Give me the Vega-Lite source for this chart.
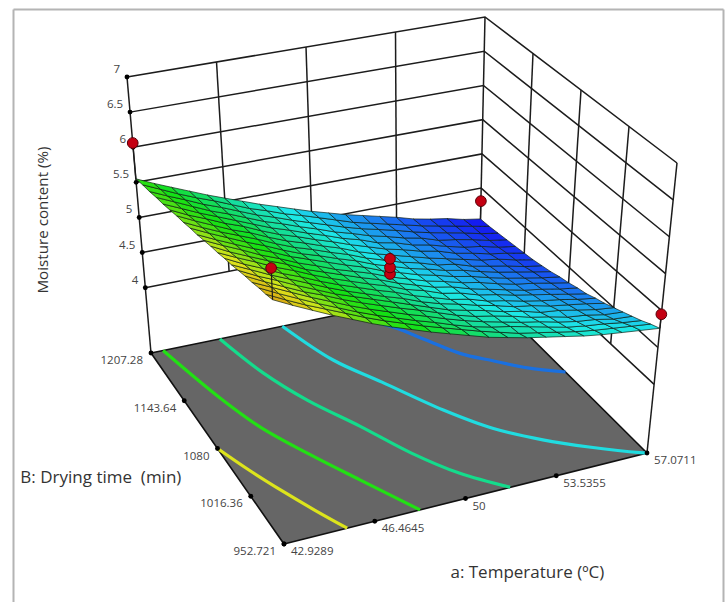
{"$schema":"https://vega.github.io/schema/vega-lite/v6.json","width":710,"height":593,"padding":{"left":13,"top":9,"right":4,"bottom":0},"autosize":"none","background":"white","config":{"view":{"stroke":null}},
"data":{"values":[
{"k":"wall","g":"h4","a":42.9289,"b":1207.28,"z":4},{"k":"wall","g":"h4","a":57.0711,"b":1207.28,"z":4},{"k":"wall","g":"h4","a":57.0711,"b":952.721,"z":4},
{"k":"wall","g":"h45","a":42.9289,"b":1207.28,"z":4.5},{"k":"wall","g":"h45","a":57.0711,"b":1207.28,"z":4.5},{"k":"wall","g":"h45","a":57.0711,"b":952.721,"z":4.5},
{"k":"wall","g":"h5","a":42.9289,"b":1207.28,"z":5},{"k":"wall","g":"h5","a":57.0711,"b":1207.28,"z":5},{"k":"wall","g":"h5","a":57.0711,"b":952.721,"z":5},
{"k":"wall","g":"h55","a":42.9289,"b":1207.28,"z":5.5},{"k":"wall","g":"h55","a":57.0711,"b":1207.28,"z":5.5},{"k":"wall","g":"h55","a":57.0711,"b":952.721,"z":5.5},
{"k":"wall","g":"h6","a":42.9289,"b":1207.28,"z":6},{"k":"wall","g":"h6","a":57.0711,"b":1207.28,"z":6},{"k":"wall","g":"h6","a":57.0711,"b":952.721,"z":6},
{"k":"wall","g":"h65","a":42.9289,"b":1207.28,"z":6.5},{"k":"wall","g":"h65","a":57.0711,"b":1207.28,"z":6.5},{"k":"wall","g":"h65","a":57.0711,"b":952.721,"z":6.5},
{"k":"wall","g":"h7","a":42.9289,"b":1207.28,"z":7},{"k":"wall","g":"h7","a":57.0711,"b":1207.28,"z":7},{"k":"wall","g":"h7","a":57.0711,"b":952.721,"z":7},
{"k":"wall","g":"va1","a":46.4645,"b":1207.28,"z":4},{"k":"wall","g":"va1","a":46.4645,"b":1207.28,"z":7},
{"k":"wall","g":"va2","a":50,"b":1207.28,"z":4},{"k":"wall","g":"va2","a":50,"b":1207.28,"z":7},
{"k":"wall","g":"va3","a":53.5355,"b":1207.28,"z":4},{"k":"wall","g":"va3","a":53.5355,"b":1207.28,"z":7},
{"k":"wall","g":"vb1","a":57.0711,"b":1016.36,"z":4},{"k":"wall","g":"vb1","a":57.0711,"b":1016.36,"z":7},
{"k":"wall","g":"vb2","a":57.0711,"b":1080,"z":4},{"k":"wall","g":"vb2","a":57.0711,"b":1080,"z":7},
{"k":"wall","g":"vb3","a":57.0711,"b":1143.64,"z":4},{"k":"wall","g":"vb3","a":57.0711,"b":1143.64,"z":7},
{"k":"wall","g":"c1","a":42.9289,"b":1207.28,"z":3.07},{"k":"wall","g":"c1","a":42.9289,"b":1207.28,"z":7},
{"k":"wall","g":"c2","a":57.0711,"b":1207.28,"z":3.07},{"k":"wall","g":"c2","a":57.0711,"b":1207.28,"z":7},
{"k":"wall","g":"c3","a":57.0711,"b":952.721,"z":3.07},{"k":"wall","g":"c3","a":57.0711,"b":952.721,"z":7},
{"k":"floor","g":"f","a":42.9289,"b":952.721,"z":3.07},{"k":"floor","g":"f","a":57.0711,"b":952.721,"z":3.07},{"k":"floor","g":"f","a":57.0711,"b":1207.28,"z":3.07},{"k":"floor","g":"f","a":42.9289,"b":1207.28,"z":3.07},
{"k":"contour","g":"l591","a":42.93,"b":1080,"z":3.07},{"k":"contour","g":"l591","a":43.5,"b":1046.9,"z":3.07},{"k":"contour","g":"l591","a":44.13,"b":1013.8,"z":3.07},{"k":"contour","g":"l591","a":44.77,"b":982,"z":3.07},{"k":"contour","g":"l591","a":45.39,"b":952.72,"z":3.07},
{"k":"contour","g":"l550","a":43.45,"b":1207.28,"z":3.07},{"k":"contour","g":"l550","a":44.3,"b":1137.8,"z":3.07},{"k":"contour","g":"l550","a":44.98,"b":1093.5,"z":3.07},{"k":"contour","g":"l550","a":45.93,"b":1051,"z":3.07},{"k":"contour","g":"l550","a":47.03,"b":1004.9,"z":3.07},{"k":"contour","g":"l550","a":48.23,"b":952.72,"z":3.07},
{"k":"contour","g":"l514","a":45.9,"b":1207.28,"z":3.07},{"k":"contour","g":"l514","a":46.54,"b":1156.4,"z":3.07},{"k":"contour","g":"l514","a":47.36,"b":1112.8,"z":3.07},{"k":"contour","g":"l514","a":48.47,"b":1068,"z":3.07},{"k":"contour","g":"l514","a":49.46,"b":1022.2,"z":3.07},{"k":"contour","g":"l514","a":50.49,"b":984.5,"z":3.07},{"k":"contour","g":"l514","a":51.74,"b":952.72,"z":3.07},
{"k":"contour","g":"l486","a":48.59,"b":1207.28,"z":3.07},{"k":"contour","g":"l486","a":49.43,"b":1153.8,"z":3.07},{"k":"contour","g":"l486","a":50.5,"b":1114.4,"z":3.07},{"k":"contour","g":"l486","a":51.78,"b":1064.2,"z":3.07},{"k":"contour","g":"l486","a":52.9,"b":1027.8,"z":3.07},{"k":"contour","g":"l486","a":54.17,"b":999.8,"z":3.07},{"k":"contour","g":"l486","a":55.49,"b":976.6,"z":3.07},{"k":"contour","g":"l486","a":56.86,"b":955.3,"z":3.07},{"k":"contour","g":"l486","a":57.07,"b":952.72,"z":3.07},
{"k":"contour","g":"l449","a":51.56,"b":1207.28,"z":3.07},{"k":"contour","g":"l449","a":52.12,"b":1189.5,"z":3.07},{"k":"contour","g":"l449","a":52.69,"b":1176,"z":3.07},{"k":"contour","g":"l449","a":53.35,"b":1153.8,"z":3.07},{"k":"contour","g":"l449","a":54.1,"b":1128.4,"z":3.07},{"k":"contour","g":"l449","a":55.02,"b":1109.8,"z":3.07},{"k":"contour","g":"l449","a":55.94,"b":1092,"z":3.07},{"k":"contour","g":"l449","a":57.07,"b":1076.2,"z":3.07},
{"k":"stem","g":"p1","a":42.9289,"b":952.721,"z":6.27},{"k":"stem","g":"p1","a":42.9289,"b":952.721,"z":6.685},
{"k":"stem","g":"p2","a":42.9289,"b":1207.28,"z":5.55},{"k":"stem","g":"p2","a":42.9289,"b":1207.28,"z":6.06},
{"k":"stem","g":"p3","a":57.0711,"b":952.721,"z":4.76},{"k":"stem","g":"p3","a":57.0711,"b":952.721,"z":4.95},
{"k":"stem","g":"p4","a":57.0711,"b":1207.28,"z":4.05},{"k":"stem","g":"p4","a":57.0711,"b":1207.28,"z":4.31},
{"k":"stem","g":"p5","a":50,"b":1080,"z":4.9},{"k":"stem","g":"p5","a":50,"b":1080,"z":5.15},
{"k":"point","g":"p1","a":42.9289,"b":952.721,"z":6.685},{"k":"point","g":"p2","a":42.9289,"b":1207.28,"z":6.06},{"k":"point","g":"p3","a":57.0711,"b":952.721,"z":4.95},{"k":"point","g":"p4","a":57.0711,"b":1207.28,"z":4.31},{"k":"point","g":"p5","a":50,"b":1080,"z":4.94},{"k":"point","g":"p6","a":50,"b":1080,"z":5.03},{"k":"point","g":"p7","a":50,"b":1080,"z":5.15},
{"k":"zt","label":"4","a":42.9289,"b":1207.28,"z":4},{"k":"zt","label":"4.5","a":42.9289,"b":1207.28,"z":4.5},{"k":"zt","label":"5","a":42.9289,"b":1207.28,"z":5},{"k":"zt","label":"5.5","a":42.9289,"b":1207.28,"z":5.5},{"k":"zt","label":"6","a":42.9289,"b":1207.28,"z":6},{"k":"zt","label":"6.5","a":42.9289,"b":1207.28,"z":6.5},{"k":"zt","label":"7","a":42.9289,"b":1207.28,"z":7},
{"k":"bt","label":"952.721","a":42.9289,"b":952.721,"z":3.07},{"k":"bt","label":"1016.36","a":42.9289,"b":1016.36,"z":3.07},{"k":"bt","label":"1080","a":42.9289,"b":1080,"z":3.07},{"k":"bt","label":"1143.64","a":42.9289,"b":1143.64,"z":3.07},{"k":"bt","label":"1207.28","a":42.9289,"b":1207.28,"z":3.07},
{"k":"at","label":"42.9289","a":42.9289,"b":952.721,"z":3.07},{"k":"at","label":"46.4645","a":46.4645,"b":952.721,"z":3.07},{"k":"at","label":"50","a":50,"b":952.721,"z":3.07},{"k":"at","label":"53.5355","a":53.5355,"b":952.721,"z":3.07},{"k":"at","label":"57.0711","a":57.0711,"b":952.721,"z":3.07},
{"k":"title","label":"a: Temperature (ºC)","a":49.97,"b":846.8,"z":3.07},{"k":"title","label":"B: Drying time\u00a0 (min)","a":38.09,"b":1076.7,"z":3.07},
{"k":"ztitle","label":"Moisture content (%)","a":42.29,"b":1387.5,"z":3.07}
]},
"transform":[
{"window":[{"op":"row_number","as":"o"}]},
{"calculate":"(datum.a-42.9289)/14.1422","as":"u"},{"calculate":"(datum.b-952.721)/254.559","as":"v"},{"calculate":"(datum.z-3.07)/3.93","as":"w"},
{"calculate":"284+363*datum.u-133*datum.v-35*datum.u*datum.v+datum.w*(-14+44*datum.u-10*datum.v-14*datum.u*datum.v)","as":"x"},
{"calculate":"544-91*datum.u-191*datum.v+24*datum.u*datum.v+datum.w*(-300+10*datum.u+24*datum.v-3*datum.u*datum.v)","as":"y"}
],
"encoding":{
"x":{"field":"x","type":"quantitative","scale":{"domain":[13,723],"nice":false,"zero":false},"axis":{"orient":"top","values":[13,723],"grid":true,"gridColor":"#b4b4b4","gridWidth":2,"domain":false,"ticks":false,"labels":false,"title":null}},
"y":{"field":"y","type":"quantitative","scale":{"domain":[602,9],"nice":false,"zero":false},"axis":{"values":[9],"grid":true,"gridColor":"#b4b4b4","gridWidth":2,"domain":false,"ticks":false,"labels":false,"title":null}}
},
"layer":[
{"transform":[{"filter":"datum.k=='wall'"}],"mark":{"type":"line","stroke":"#1c1c1c","strokeWidth":1.5},"encoding":{"detail":{"field":"g"},"order":{"field":"o"}}},
{"transform":[{"filter":"datum.k=='floor'"}],"mark":{"type":"line","interpolate":"linear-closed","fill":"#666666","stroke":"#111111","strokeWidth":1.6},"encoding":{"detail":{"field":"g"},"order":{"field":"o"}}},
{"transform":[{"filter":"datum.k=='contour'"}],"mark":{"type":"line","strokeWidth":3.2,"interpolate":"catmull-rom"},"encoding":{"stroke":{"field":"g","type":"nominal","scale":{"domain":["l591","l550","l514","l486","l449"],"range":["#dce41c","#22e014","#14dc8c","#20dce0","#1a70e0"]},"legend":null},"order":{"field":"o"}}},
{"data":{"values":[
{"a":42.93,"m":[6.27,6.23,6.20,6.16,6.13,6.09,6.05,6.02,5.98,5.95,5.91,5.87,5.84,5.80,5.77,5.73,5.69,5.66,5.62,5.59,5.55]},
{"a":43.64,"m":[6.14,6.10,6.07,6.04,6.00,5.96,5.93,5.89,5.86,5.82,5.79,5.75,5.72,5.68,5.65,5.61,5.58,5.55,5.51,5.48,5.44]},
{"a":44.34,"m":[6.02,5.98,5.95,5.92,5.88,5.85,5.81,5.78,5.75,5.71,5.68,5.64,5.61,5.57,5.54,5.51,5.47,5.44,5.41,5.37,5.34]},
{"a":45.05,"m":[5.90,5.87,5.83,5.80,5.76,5.73,5.70,5.66,5.63,5.60,5.56,5.53,5.50,5.47,5.43,5.40,5.37,5.33,5.30,5.27,5.24]},
{"a":45.76,"m":[5.79,5.76,5.72,5.69,5.66,5.62,5.59,5.56,5.53,5.50,5.46,5.43,5.40,5.37,5.34,5.31,5.27,5.24,5.21,5.18,5.14]},
{"a":46.46,"m":[5.68,5.65,5.61,5.58,5.55,5.51,5.48,5.45,5.42,5.38,5.35,5.32,5.29,5.26,5.23,5.20,5.17,5.14,5.11,5.08,5.05]},
{"a":47.17,"m":[5.58,5.55,5.51,5.48,5.45,5.42,5.38,5.35,5.32,5.29,5.26,5.23,5.19,5.16,5.13,5.10,5.07,5.04,5.01,4.98,4.96]},
{"a":47.88,"m":[5.49,5.46,5.42,5.39,5.36,5.33,5.29,5.26,5.23,5.20,5.16,5.14,5.11,5.08,5.05,5.02,4.99,4.96,4.93,4.90,4.87]},
{"a":48.59,"m":[5.40,5.37,5.33,5.30,5.27,5.24,5.20,5.17,5.14,5.11,5.08,5.05,5.02,4.99,4.96,4.93,4.90,4.87,4.84,4.81,4.79]},
{"a":49.29,"m":[5.32,5.29,5.25,5.22,5.19,5.15,5.12,5.09,5.06,5.03,5.00,4.97,4.94,4.91,4.88,4.85,4.82,4.79,4.76,4.74,4.71]},
{"a":50,"m":[5.24,5.21,5.16,5.13,5.10,5.06,5.02,4.99,4.96,4.93,4.90,4.87,4.84,4.81,4.78,4.76,4.73,4.70,4.68,4.66,4.63]},
{"a":50.71,"m":[5.16,5.13,5.08,5.05,5.01,4.97,4.94,4.91,4.89,4.85,4.82,4.79,4.76,4.73,4.70,4.68,4.66,4.63,4.60,4.58,4.56]},
{"a":51.41,"m":[5.10,5.06,5.02,4.98,4.94,4.91,4.88,4.83,4.80,4.77,4.74,4.71,4.68,4.65,4.63,4.60,4.57,4.55,4.53,4.50,4.49]},
{"a":52.12,"m":[5.04,4.99,4.97,4.92,4.89,4.85,4.81,4.78,4.75,4.72,4.68,4.65,4.62,4.59,4.56,4.54,4.52,4.49,4.47,4.44,4.43]},
{"a":52.83,"m":[4.99,4.94,4.91,4.86,4.83,4.78,4.75,4.70,4.67,4.64,4.61,4.58,4.55,4.51,4.49,4.47,4.44,4.42,4.41,4.38,4.37]},
{"a":53.54,"m":[4.94,4.89,4.85,4.81,4.76,4.73,4.68,4.65,4.62,4.58,4.56,4.53,4.50,4.47,4.43,4.42,4.39,4.37,4.34,4.32,4.31]},
{"a":54.24,"m":[4.89,4.84,4.79,4.75,4.71,4.66,4.64,4.59,4.56,4.52,4.49,4.46,4.43,4.39,4.37,4.34,4.32,4.29,4.28,4.26,4.24]},
{"a":54.95,"m":[4.85,4.80,4.75,4.70,4.65,4.63,4.58,4.54,4.51,4.46,4.43,4.40,4.37,4.34,4.31,4.29,4.26,4.25,4.23,4.21,4.19]},
{"a":55.66,"m":[4.82,4.77,4.72,4.67,4.62,4.58,4.54,4.50,4.46,4.42,4.39,4.35,4.32,4.29,4.27,4.23,4.22,4.20,4.18,4.16,4.15]},
{"a":56.36,"m":[4.79,4.74,4.68,4.62,4.57,4.53,4.50,4.45,4.41,4.37,4.34,4.30,4.27,4.23,4.21,4.19,4.16,4.14,4.12,4.11,4.09]},
{"a":57.07,"m":[4.76,4.71,4.65,4.60,4.55,4.50,4.45,4.41,4.36,4.33,4.29,4.26,4.22,4.19,4.16,4.14,4.12,4.10,4.08,4.06,4.05]}
]},
"transform":[
{"flatten":["m"]},
{"window":[{"op":"row_number","as":"j"}],"groupby":["a"]},
{"window":[{"op":"lead","field":"m","as":"m_v"}],"groupby":["a"],"sort":[{"field":"j","order":"ascending"}]},
{"window":[{"op":"lead","field":"m","as":"m_u"},{"op":"lead","field":"m_v","as":"m_uv"},{"op":"lead","field":"a","as":"a1"}],"groupby":["j"],"sort":[{"field":"a","order":"ascending"}]},
{"filter":"isValid(datum.m_uv)"},
{"calculate":"(datum.m+datum.m_u+datum.m_v+datum.m_uv)/4","as":"mm"},
{"calculate":"datum.a+'_'+datum.j","as":"id"},
{"fold":["m","m_u","m_uv","m_v"],"as":["corner","z"]},
{"calculate":"indexof(['m','m_u','m_uv','m_v'],datum.corner)","as":"o"},
{"calculate":"((datum.corner=='m_u'||datum.corner=='m_uv'?datum.a1:datum.a)-42.9289)/14.1422","as":"u"},
{"calculate":"(datum.corner=='m_v'||datum.corner=='m_uv'?datum.j:datum.j-1)/20","as":"v"},
{"calculate":"(datum.z-3.07)/3.93","as":"w"},
{"calculate":"284+363*datum.u-133*datum.v-35*datum.u*datum.v+datum.w*(-14+44*datum.u-10*datum.v-14*datum.u*datum.v)","as":"x"},
{"calculate":"544-91*datum.u-191*datum.v+24*datum.u*datum.v+datum.w*(-300+10*datum.u+24*datum.v-3*datum.u*datum.v)","as":"y"}
],
"mark":{"type":"line","interpolate":"linear-closed","stroke":"#0c1c10","strokeWidth":0.85,"strokeOpacity":0.8},
"encoding":{"fill":{"field":"mm","type":"quantitative","scale":{"domain":[4.05,4.38,4.77,5.08,5.45,5.7,5.95,6.27],"range":["#1414f0","#1a78f0","#1de8e8","#14dc8c","#14e014","#60e014","#dce41c","#d89a10"],"interpolate":"rgb"},"legend":null},"detail":{"field":"id"},"order":{"field":"o"}}},
{"transform":[{"filter":"datum.k=='stem'"}],"mark":{"type":"line","stroke":"#1c1c1c","strokeWidth":1.2},"encoding":{"detail":{"field":"g"},"order":{"field":"o"}}},
{"transform":[{"filter":"datum.k=='zt'||datum.k=='bt'||datum.k=='at'"}],"mark":{"type":"circle","size":24,"color":"#000000","opacity":1}},
{"transform":[{"filter":"datum.k=='point'"}],"mark":{"type":"circle","size":115,"fill":"#c40012","stroke":"#5a0008","strokeWidth":1,"opacity":1}},
{"transform":[{"filter":"datum.k=='zt'"}],"mark":{"type":"text","align":"right","baseline":"middle","dx":-7,"dy":-7,"font":"Open Sans","fontSize":11.5,"fill":"#444444"},"encoding":{"text":{"field":"label"}}},
{"transform":[{"filter":"datum.k=='bt'"}],"mark":{"type":"text","align":"right","baseline":"middle","dx":-8,"dy":8,"font":"Open Sans","fontSize":11.5,"fill":"#444444"},"encoding":{"text":{"field":"label"}}},
{"transform":[{"filter":"datum.k=='at'"}],"mark":{"type":"text","align":"left","baseline":"middle","dx":7,"dy":8,"font":"Open Sans","fontSize":11.5,"fill":"#444444"},"encoding":{"text":{"field":"label"}}},
{"transform":[{"filter":"datum.k=='title'"}],"mark":{"type":"text","align":"center","baseline":"middle","font":"Open Sans","fontSize":17,"fill":"#333333"},"encoding":{"text":{"field":"label"}}},
{"transform":[{"filter":"datum.k=='ztitle'"}],"mark":{"type":"text","align":"center","baseline":"middle","angle":270,"font":"Open Sans","fontSize":15.2,"fill":"#333333"},"encoding":{"text":{"field":"label"}}}
]}
